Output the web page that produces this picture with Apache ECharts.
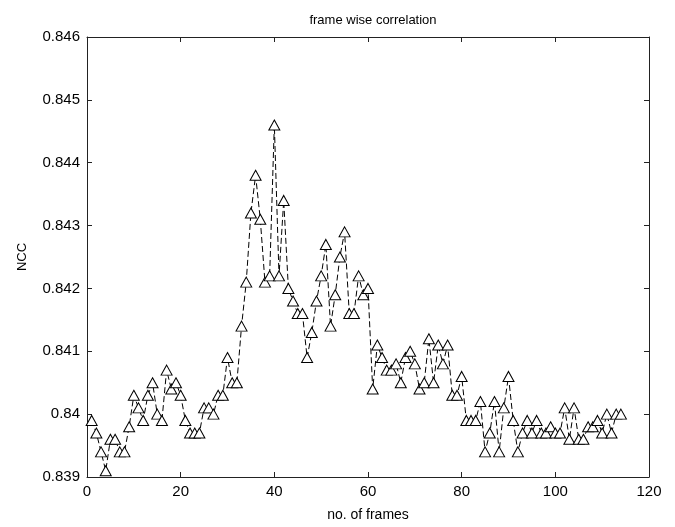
<!DOCTYPE html>
<html><head><meta charset="utf-8">
<script src="https://cdn.jsdelivr.net/npm/echarts@6/dist/echarts.min.js"></script>
<style>html,body{margin:0;padding:0;background:#fff}#c{width:675px;height:527px}</style>
</head><body><div id="c"></div>
<script>
const frames = [];
for (let i = 1; i <= 114; i++) frames.push(i);
const ncc = [
0.8399,0.8397,0.8394,0.8391,0.8396,0.8396,0.8394,0.8394,0.8398,0.8403,
0.8401,0.8399,0.8403,0.8405,0.8400,0.8399,0.8407,0.8404,0.8405,0.8403,
0.8399,0.8397,0.8397,0.8397,0.8401,0.8401,0.8400,0.8403,0.8403,0.8409,
0.8405,0.8405,0.8414,0.8421,0.8432,0.8438,0.8431,0.8421,0.8422,0.8446,
0.8422,0.8434,0.8420,0.8418,0.8416,0.8416,0.8409,0.8413,0.8418,0.8422,
0.8427,0.8414,0.8419,0.8425,0.8429,0.8416,0.8416,0.8422,0.8419,0.8420,
0.8404,0.8411,0.8409,0.8407,0.8407,0.8408,0.8405,0.8409,0.8410,0.8408,
0.8404,0.8405,0.8412,0.8405,0.8411,0.8408,0.8411,0.8403,0.8403,0.8406,
0.8399,0.8399,0.8399,0.8402,0.8394,0.8397,0.8402,0.8394,0.8401,0.8406,
0.8399,0.8394,0.8397,0.8399,0.8397,0.8399,0.8397,0.8397,0.8398,0.8397,
0.8397,0.8401,0.8396,0.8401,0.8396,0.8396,0.8398,0.8398,0.8399,0.8397,
0.8400,0.8397,0.8400,0.8400
];
const xTicks = [0, 20, 40, 60, 80, 100, 120];
const yTicks = [0.839, 0.840, 0.841, 0.842, 0.843, 0.844, 0.845, 0.846];

const FONT = "'Liberation Sans Narrow','Liberation Sans',Arial,sans-serif";
const axisCol = '#222';
const data = frames.map((f, i) => [f, ncc[i]]);
const fmtY = v => { let s = v.toFixed(3); s = s.replace(/0+$/, ''); return s; };

const chart = echarts.init(document.getElementById('c'), null, {renderer: 'canvas'});
const common = {
  axisLine: {show: true, onZero: false, lineStyle: {color: axisCol, width: 1}},
  splitLine: {show: false},
  axisTick: {show: true, inside: true, length: 5, lineStyle: {color: axisCol}}
};
chart.setOption({
  backgroundColor: '#fff',
  animation: false,
  title: {
    text: 'frame wise correlation', left: 368, top: 9, textAlign: 'center',
    textStyle: {fontFamily: FONT, fontSize: 13, fontWeight: 'normal', color: '#000'}
  },
  grid: {left: 87, right: 26, top: 37, bottom: 46, containLabel: false},
  xAxis: [
    Object.assign({}, common, {
      type: 'value', min: 0, max: 120, interval: 20, position: 'bottom',
      name: 'no. of frames', nameLocation: 'middle', nameGap: 31,
      nameTextStyle: {fontFamily: FONT, fontSize: 14, color: '#000'},
      axisLabel: {fontFamily: FONT, fontSize: 15, color: '#000', margin: 7,
        formatter: v => xTicks.includes(v) ? String(v) : ''}
    }),
    Object.assign({}, common, {
      type: 'value', min: 0, max: 120, interval: 20, position: 'top',
      axisLabel: {show: false}
    })
  ],
  yAxis: [
    Object.assign({}, common, {
      type: 'value', min: 0.839, max: 0.846, interval: 0.001, position: 'left',
      name: 'NCC', nameLocation: 'middle', nameGap: 58, nameRotate: 90,
      nameTextStyle: {fontFamily: FONT, fontSize: 13, color: '#000'},
      axisLabel: {fontFamily: FONT, fontSize: 15, color: '#000', margin: 7,
        formatter: v => fmtY(v)}
    }),
    Object.assign({}, common, {
      type: 'value', min: 0.839, max: 0.846, interval: 0.001, position: 'right',
      axisLabel: {show: false}
    })
  ],
  series: [{
    type: 'line', xAxisIndex: 0, yAxisIndex: 0, data: data,
    symbol: 'triangle', symbolSize: [11, 10], showAllSymbol: true,
    lineStyle: {color: '#000', width: 1, type: [6, 3]},
    itemStyle: {color: '#fff', borderColor: '#000', borderWidth: 1},
    z: 3
  }]
});
</script></body></html>
